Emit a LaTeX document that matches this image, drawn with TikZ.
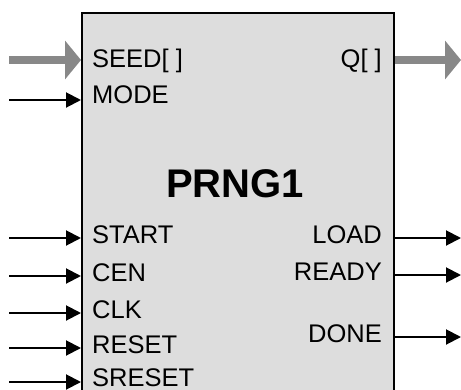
\documentclass[tikz,border=0pt]{standalone}
\usepackage{fontspec}
\setmainfont{Liberation Sans}
\usetikzlibrary{arrows.meta}
\definecolor{boxfill}{RGB}{221,221,221}
\definecolor{busgray}{RGB}{136,136,136}
\begin{document}
\begin{tikzpicture}[x=1pt,y=-1pt,
  sig/.style={line width=2pt, -{Triangle[length=15pt,width=15pt]}},
  bus/.style={line width=8pt, busgray, -{Triangle[length=16pt,width=38pt]}},
  pinfont/.style={font=\fontsize{25.5}{28}\selectfont, inner sep=0pt},
  pinL/.style={pinfont, anchor=base west},
  pinR/.style={pinfont, anchor=base east}]
\useasboundingbox (0,0) rectangle (461,389);

% block body (runs past the lower edge)
\node[draw, line width=2pt, fill=boxfill, anchor=north west,
      minimum width=312pt, minimum height=420pt, inner sep=0pt] (prng) at (81,12) {};

% block title
\node[font=\fontsize{40}{44}\selectfont\bfseries, inner sep=0pt, anchor=base] (title) at (235,197) {PRNG1};

% input pin labels
\node[pinL] (lseed)   at (92,67)  {SEED[ ]};
\node[pinL] (lmode)   at (92,103) {MODE};
\node[pinL] (lstart)  at (92,243) {START};
\node[pinL] (lcen)    at (92,281) {CEN};
\node[pinL] (lclk)    at (92,318) {CLK};
\node[pinL] (lreset)  at (92,353) {RESET};
\node[pinL] (lsreset) at (92,386) {SRESET};

% output pin labels
\node[pinR] (lq)     at (382,67)  {Q[ ]};
\node[pinR] (lload)  at (382,243) {LOAD};
\node[pinR] (lready) at (382,280) {READY};
\node[pinR] (ldone)  at (382,342) {DONE};

% outer ends of the connectors
\coordinate (iseed)   at (9,60);
\coordinate (imode)   at (9,100);
\coordinate (istart)  at (9,238);
\coordinate (icen)    at (9,276);
\coordinate (iclk)    at (9,313);
\coordinate (ireset)  at (9,348);
\coordinate (isreset) at (9,382);
\coordinate (oq)      at (461,60);
\coordinate (oload)   at (461,238);
\coordinate (oready)  at (461,275);
\coordinate (odone)   at (461,337);

% inputs
\draw[bus] (iseed) -- (iseed -| prng.west);
\draw[sig] (imode) -- (imode -| prng.west);
\draw[sig] (istart) -- (istart -| prng.west);
\draw[sig] (icen) -- (icen -| prng.west);
\draw[sig] (iclk) -- (iclk -| prng.west);
\draw[sig] (ireset) -- (ireset -| prng.west);
\draw[sig] (isreset) -- (isreset -| prng.west);

% outputs
\draw[bus] (oq -| prng.east) -- (oq);
\draw[sig] (oload -| prng.east) -- (oload);
\draw[sig] (oready -| prng.east) -- (oready);
\draw[sig] (odone -| prng.east) -- (odone);
\end{tikzpicture}
\end{document}
